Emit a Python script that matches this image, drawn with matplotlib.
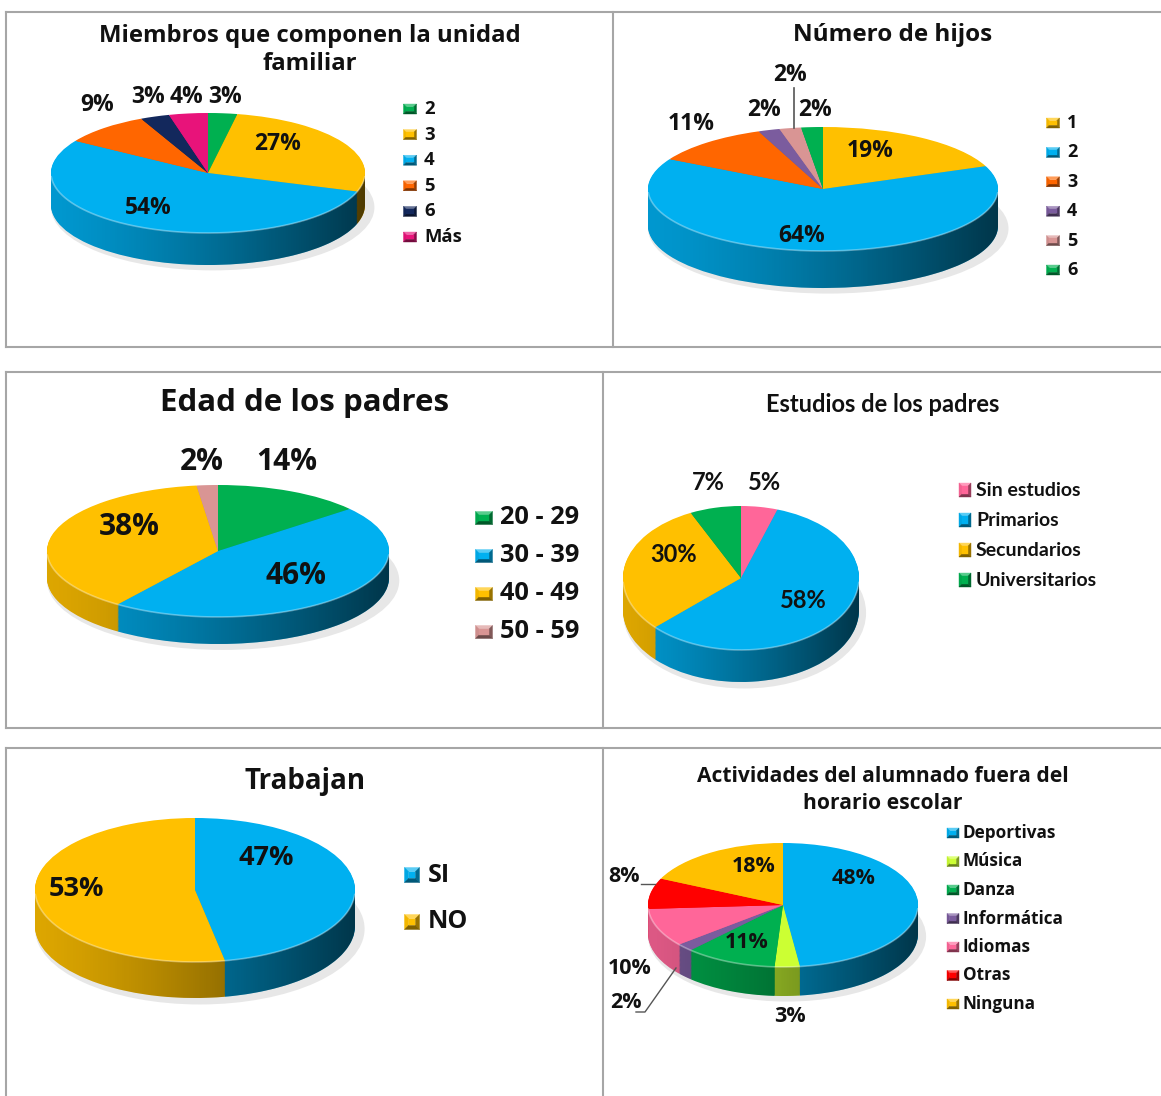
import numpy as np
import matplotlib
matplotlib.use('Agg')
import matplotlib.pyplot as plt
from matplotlib.patches import Polygon, Ellipse
from matplotlib.lines import Line2D
from matplotlib.colors import to_rgb

# ---------------- data ----------------
miembros_cats = ['2', '3', '4', '5', '6', 'Más']
miembros_vals = [3, 27, 54, 9, 3, 4]

hijos_cats = ['1', '2', '3', '4', '5', '6']
hijos_vals = [19, 64, 11, 2, 2, 2]

edad_cats = ['20 - 29', '30 - 39', '40 - 49', '50 - 59']
edad_vals = [14, 46, 38, 2]

estudios_cats = ['Sin estudios', 'Primarios', 'Secundarios', 'Universitarios']
estudios_vals = [5, 58, 30, 7]

trabajan_cats = ['SI', 'NO']
trabajan_vals = [47, 53]

actividades_cats = ['Deportivas', 'Música', 'Danza', 'Informática', 'Idiomas', 'Otras', 'Ninguna']
actividades_vals = [48, 3, 11, 2, 10, 8, 18]

# ---------------- styles ----------------
BLUE = '#00B0F0'; YELLOW = '#FFC000'; ORANGE = '#FF6600'; GREEN = '#00B050'
NAVY = '#13285C'; MAGENTA = '#E8137A'; PURPLE = '#7B5C9E'; ROSY = '#D99594'
PINK = '#FF6699'; LIME = '#CCFF33'; RED = '#FF0000'

miembros_colors = [GREEN, YELLOW, BLUE, ORANGE, NAVY, MAGENTA]
hijos_colors = [YELLOW, BLUE, ORANGE, PURPLE, ROSY, GREEN]
edad_colors = [GREEN, BLUE, YELLOW, ROSY]
estudios_colors = [PINK, BLUE, YELLOW, GREEN]
trabajan_colors = [BLUE, YELLOW]
actividades_colors = [BLUE, LIME, GREEN, PURPLE, PINK, RED, YELLOW]

W, H = 1161, 1096
FONT = ['Open Sans', 'DejaVu Sans']
NARROW = ['Lato', 'DejaVu Sans']

fig = plt.figure(figsize=(W / 100, H / 100), dpi=100)


def fx(x):
    return x / W


def fy(y):
    return 1 - y / H


def shade(c, f):
    return tuple(np.clip(np.array(to_rgb(c)) * f, 0, 1))


def tint(c, f):
    a = np.array(to_rgb(c))
    return tuple(a + (1 - a) * f)


def pie3d(box, cx, cy, rx, ry, depth, values, colors):
    x0, y0, x1, y1 = box
    ax = fig.add_axes([x0 / W, 1 - y1 / H, (x1 - x0) / W, (y1 - y0) / H])
    dz = depth / ry
    # soft shadow
    ax.add_patch(Ellipse((0.03, -dz - 0.04), 2.06, 2.1, facecolor='#bbbbbb',
                         alpha=0.35, edgecolor='none', zorder=0.5))
    n = int(depth) + 6
    side = [shade(c, 0.9) for c in colors]
    for k in range(n, 0, -1):
        ax.pie(values, colors=side, startangle=90, counterclock=False,
               center=(0, -dz * k / n), wedgeprops=dict(linewidth=0, zorder=1))
    t = np.linspace(np.pi, 2 * np.pi, 200)
    band = np.vstack([np.column_stack([np.cos(t), np.sin(t)]),
                      np.column_stack([np.cos(t[::-1]), np.sin(t[::-1]) - dz])])
    poly = Polygon(band, closed=True, transform=ax.transData,
                   facecolor='none', edgecolor='none')
    g = np.zeros((2, 256, 4))
    xs = np.linspace(0, 1, 256)
    g[..., 3] = 0.04 + 0.62 * xs ** 1.3
    im = ax.imshow(g, extent=(-1, 1, -1 - dz, 0), aspect='auto', zorder=1.5,
                   interpolation='bilinear')
    im.set_clip_path(poly)
    ax.pie(values, colors=colors, startangle=90, counterclock=False,
           wedgeprops=dict(linewidth=0, zorder=2))
    tt = np.linspace(np.pi * 1.02, np.pi * 1.98, 200)
    ax.plot(np.cos(tt), np.sin(tt), color='white', alpha=0.35, lw=1.2, zorder=2.5)
    ax.set_aspect('auto')
    ax.set_xlim((x0 - cx) / rx, (x1 - cx) / rx)
    ax.set_ylim((cy - y1) / ry, (cy - y0) / ry)
    ax.axis('off')
    return ax


def labels(items, size, family=FONT):
    for s, x, y in items:
        fig.text(fx(x), fy(y), s, ha='center', va='center', fontsize=size,
                 fontweight='bold', family=family, color='#111111')


def marker(xc, yc, w, h, col):
    x0, x1 = xc - w / 2, xc + w / 2
    y0, y1 = yc - h / 2, yc + h / 2
    ins = min(w, h) * 0.28
    ix0, ix1, iy0, iy1 = x0 + ins, x1 - ins, y0 + ins, y1 - ins
    parts = [
        ([(x0, y0), (x1, y0), (ix1, iy0), (ix0, iy0)], tint(col, 0.35)),   # top
        ([(x0, y0), (ix0, iy0), (ix0, iy1), (x0, y1)], shade(col, 0.95)),  # left
        ([(x1, y0), (x1, y1), (ix1, iy1), (ix1, iy0)], shade(col, 0.6)),   # right
        ([(x0, y1), (ix0, iy1), (ix1, iy1), (x1, y1)], shade(col, 0.5)),   # bottom
        ([(ix0, iy0), (ix1, iy0), (ix1, iy1), (ix0, iy1)], col),           # face
    ]
    for pts, c in parts:
        fig.patches.append(Polygon([(fx(px), fy(py)) for px, py in pts], closed=True,
                                   transform=fig.transFigure, facecolor=c,
                                   edgecolor=c, lw=0.3))


def legend(cats, colors, mx, tx, y0, dy, size, w=12, h=10, family=FONT):
    for i, (c, col) in enumerate(zip(cats, colors)):
        y = y0 + i * dy
        marker(mx, y, w, h, col)
        fig.text(fx(tx), fy(y), c, ha='left', va='center', fontsize=size,
                 fontweight='bold', family=family, color='#111111')


def title(s, x, y, size, family=FONT, ls=1.2):
    fig.text(fx(x), fy(y), s, ha='center', va='center', fontsize=size,
             fontweight='bold', family=family, color='#111111', linespacing=ls)


def fline(xs, ys, lw=1.0, color='#555555'):
    fig.add_artist(Line2D([fx(v) for v in xs], [fy(v) for v in ys],
                          transform=fig.transFigure, color=color, lw=lw))


# ---------------- panel borders ----------------
BC = '#A6A6A6'
fline([6, 1161], [12, 12], 1.5, BC); fline([6, 1161], [347, 347], 1.5, BC)
fline([6, 6], [12, 347], 1.5, BC); fline([613, 613], [12, 347], 1.5, BC)
fline([6, 1161], [372, 372], 1.5, BC); fline([6, 1161], [728, 728], 1.5, BC)
fline([6, 6], [372, 728], 1.5, BC); fline([603, 603], [372, 728], 1.5, BC)
fline([6, 1161], [748, 748], 1.5, BC)
fline([6, 6], [748, 1096], 1.5, BC); fline([603, 603], [748, 1096], 1.5, BC)

# ---------------- panel 1 ----------------
pie3d((6, 12, 613, 347), 208, 173, 157, 60, 32, miembros_vals, miembros_colors)
title('Miembros que componen la unidad\nfamiliar', 310, 50, 17.2)
labels([('9%', 97, 105), ('3%', 148, 97), ('4%', 187, 97), ('3%', 225, 97),
        ('27%', 278, 144), ('54%', 148, 208)], 16.5)
legend(miembros_cats, miembros_colors, 410, 424, 109, 25.6, 13.3, w=13, h=10)

# ---------------- panel 2 ----------------
pie3d((613, 12, 1161, 347), 823, 189, 175, 62, 37, hijos_vals, hijos_colors)
title('Número de hijos', 893, 35, 17.5)
labels([('11%', 691, 124), ('2%', 764, 110), ('2%', 790, 75), ('2%', 815, 110),
        ('19%', 870, 151), ('64%', 802, 236)], 16.5)
fline([794, 794], [88, 128], 1.2)
legend(hijos_cats, hijos_colors, 1053, 1067, 123, 29.4, 13, w=13, h=10)

# ---------------- panel 3 ----------------
pie3d((6, 372, 603, 728), 218, 551, 171, 66, 27, edad_vals, edad_colors)
title('Edad de los padres', 305, 403, 22.5)
labels([('2%', 202, 462), ('14%', 287, 462), ('38%', 129, 527), ('46%', 296, 576)], 21.5)
legend(edad_cats, edad_colors, 484, 500, 518, 38, 18.3, w=17, h=13)

# ---------------- panel 4 ----------------
pie3d((603, 372, 1161, 728), 741, 578, 118, 72, 32, estudios_vals, estudios_colors)
title('Estudios de los padres', 883, 405, 17, NARROW)
labels([('7%', 708, 483), ('5%', 765, 483), ('30%', 674, 555), ('58%', 803, 600)], 17, NARROW)
legend(estudios_cats, estudios_colors, 965, 976, 490, 30, 14, w=12, h=14, family=NARROW)

# ---------------- panel 5 ----------------
pie3d((6, 748, 603, 1096), 195, 890, 160, 72, 36, trabajan_vals, trabajan_colors)
title('Trabajan', 305, 782, 20)
labels([('47%', 266, 858), ('53%', 76, 889)], 19.5)
legend(trabajan_cats, trabajan_colors, 412, 428, 875, 47, 18, w=15, h=15)

# ---------------- panel 6 ----------------
pie3d((603, 748, 1161, 1096), 783, 905, 135, 62, 29, actividades_vals, actividades_colors)
title('Actividades del alumnado fuera del\nhorario escolar', 883, 790, 15.1, ls=1.4)
labels([('48%', 854, 878), ('18%', 754, 866), ('8%', 624, 876), ('11%', 747, 942),
        ('10%', 630, 969), ('2%', 626, 1003), ('3%', 790, 1016)], 15.5)
fline([641, 655], [884, 884], 1.0)
fline([636, 645, 676], [1012, 1012, 968], 1.0)
legend(actividades_cats, actividades_colors, 953, 963, 833, 28.5, 12.3, w=12, h=10)

fig.savefig('out.png', dpi=100)
